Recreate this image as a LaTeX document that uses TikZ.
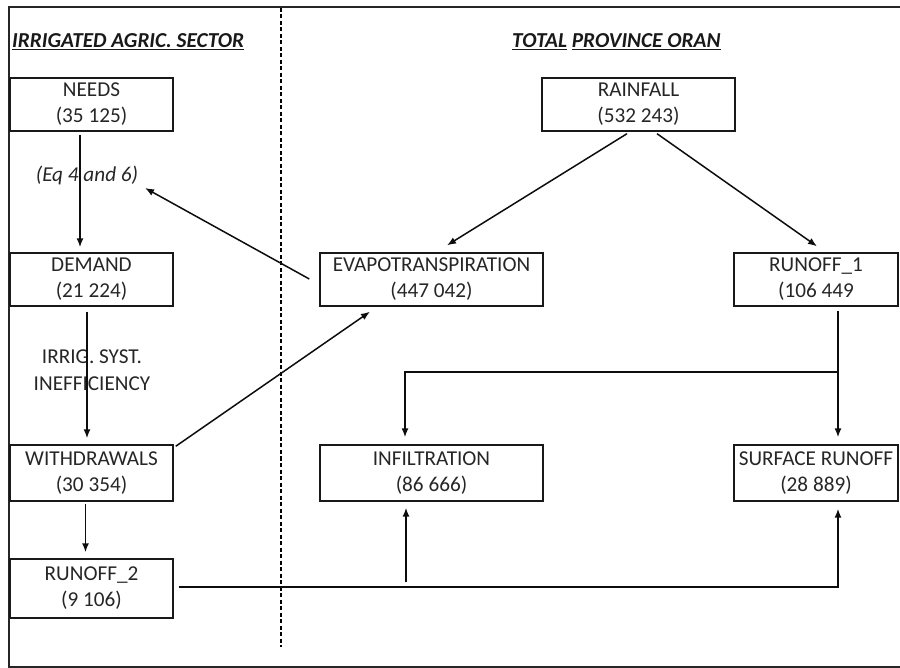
\documentclass[tikz,border=0pt]{standalone}
\usepackage{fontspec}
\setmainfont{Carlito}
\usetikzlibrary{arrows.meta,calc}
\begin{document}
\begin{tikzpicture}[x=1pt,y=-1pt,
  box/.style={draw=black!90, line width=1.4pt, inner sep=0pt, align=center,
    text=black!85, font=\fontsize{21.2}{26}\selectfont},
  lbl/.style={inner sep=0pt, align=center, text=black!85, font=\fontsize{21.2}{27}\selectfont},
  ttl/.style={inner sep=0pt, anchor=base west, text=black!90, font=\fontsize{21.3}{24}\selectfont\bfseries\itshape},
  arr/.style={draw=black!95, line width=1.5pt, -{Latex[length=9pt,width=7pt]}},
  ln/.style={draw=black!95, line width=1.5pt}]
\useasboundingbox (0,0) rectangle (900,668);
% frame
\draw[line width=1.7pt, black!85] (900,7) -- (9,7) -- (9,667) -- (900,667);
% divider
\draw[line width=1.2pt, dash pattern=on 4pt off 2.5pt] (281,8) -- (281,647);
% titles
\node[ttl] (t1) at (12,48) {\underline{IRRIGATED AGRIC. SECTOR}};
\node[ttl] (t2) at (512,48) {\underline{TOTAL} \underline{PROVINCE ORAN}};
% boxes
\node[box, minimum width=163pt, minimum height=53pt] (needs) at (91.5,104.5) {NEEDS\\(35 125)};
\node[box, minimum width=193pt, minimum height=53pt] (rain) at (638.5,104.5) {RAINFALL\\(532 243)};
\node[box, minimum width=163pt, minimum height=53pt] (demand) at (91.5,279.5) {DEMAND\\(21 224)};
\node[box, minimum width=223pt, minimum height=53pt] (evapo) at (431.5,279.5) {EVAPOTRANSPIRATION\\(447 042)};
\node[box, minimum width=164pt, minimum height=53pt] (r1) at (816,279.5) {RUNOFF\_1\\(106 449};
\node[box, minimum width=163pt, minimum height=56pt] (withd) at (91.5,473) {WITHDRAWALS\\(30 354)};
\node[box, minimum width=223pt, minimum height=56pt] (infil) at (431.5,473) {INFILTRATION\\(86 666)};
\node[box, minimum width=164pt, minimum height=56pt] (sr) at (816,473) {SURFACE RUNOFF\\(28 889)};
\node[box, minimum width=163pt, minimum height=59pt] (r2) at (91.5,588.5) {RUNOFF\_2\\(9 106)};
% labels
\node[lbl, font=\fontsize{21.2}{27}\selectfont\itshape] (eq) at (87,175) {(Eq 4 and 6)};
\node[lbl] (irrig) at (92,370) {IRRIG. SYST.\\INEFFICIENCY};
% free ends
\coordinate (eqtip) at (145,188);
\coordinate (j1) at (838,372);
\coordinate (j2) at (406,582);
% connectors
\draw[arr] ([xshift=-11.5pt,yshift=-3pt]needs.south) -- ([xshift=-11.5pt,yshift=5pt]demand.north);
\draw[arr] ([xshift=-4.5pt,yshift=-5pt]demand.south) -- ([xshift=-4.5pt,yshift=6pt]withd.north);
\draw[arr] ([xshift=-6pt,yshift=-2pt]withd.south) -- ([xshift=-6pt,yshift=6pt]r2.north);
\draw[arr] ([xshift=-11.5pt,yshift=-2pt]rain.south) -- ([xshift=15.5pt,yshift=7pt]evapo.north);
\draw[arr] ([xshift=18.5pt,yshift=-2pt]rain.south) -- ([xshift=1pt,yshift=6pt]r1.north);
\draw[arr] ([xshift=-10pt,yshift=0.5pt]evapo.west) -- (eqtip);
\draw[arr] ([xshift=2pt,yshift=-2pt]withd.north east) -- ([xshift=-61.5pt,yshift=-5pt]evapo.south);
\draw[arr] ([xshift=22pt,yshift=-4pt]r1.south) -- ([xshift=22pt,yshift=7pt]sr.north);
\draw[arr] (j1) -| ([xshift=-26.5pt,yshift=7pt]infil.north);
\draw[arr] ([xshift=5pt,yshift=1.5pt]r2.east) -| ([xshift=22pt,yshift=-7pt]sr.south);
\draw[arr] (j2) -- ([xshift=-25.5pt,yshift=-6pt]infil.south);
\end{tikzpicture}
\end{document}
